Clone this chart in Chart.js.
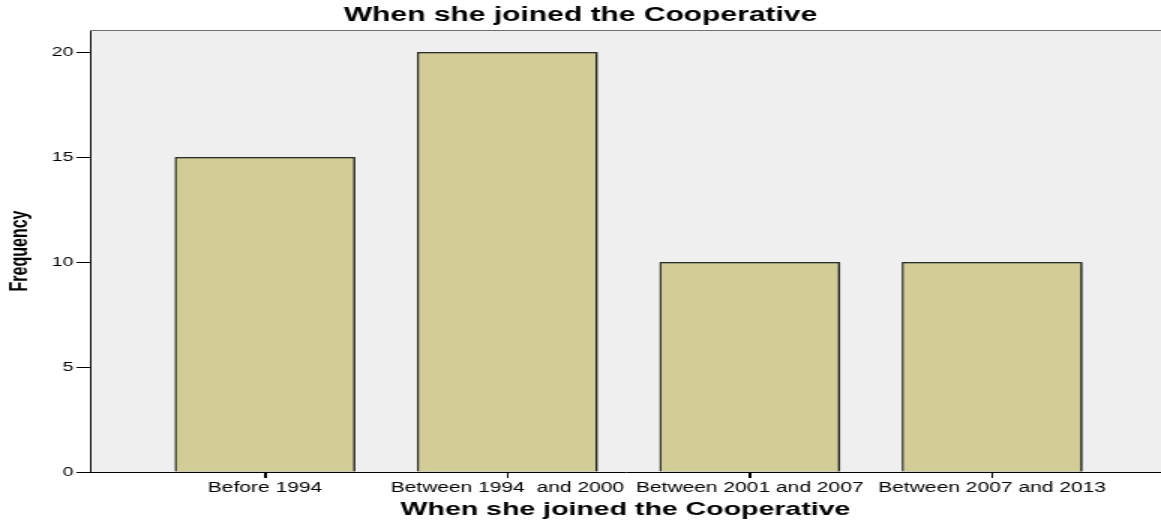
<!DOCTYPE html>
<html>
<head>
<meta charset="utf-8">
<script src="https://cdn.jsdelivr.net/npm/chart.js@4"></script>
<style>
  html, body { margin: 0; padding: 0; background: #fff; }
  /* the chart is rendered narrow and stretched sideways, SPSS-export style */
  #freqChart { display: block; width: 1161px; height: 527px; }
</style>
</head>
<body>
<canvas id="freqChart" width="774" height="527" style="width:1161px;height:527px"></canvas>
<script>
// --- data ---
const CATEGORIES = ['Before 1994', 'Between 1994  and 2000', 'Between 2001 and 2007', 'Between 2007 and 2013'];
const FREQUENCIES = [15, 20, 10, 10];
const Y_TICKS = [0, 5, 10, 15, 20];

const TITLE = 'When she joined the Cooperative';
const FONT = "'Liberation Sans', Arial, sans-serif";

const COLORS = {
    plotBg: '#EFEFEF',
    bar: '#D2CD97',
    barEdge: '#2E2E26',
    axis: '#000000',
    frame: '#6E6E6E'
};

// plot background, grey frame on top, tick marks under each category
const framePlugin = {
    id: 'frame',
    beforeDraw(chart) {
        const { ctx, chartArea: a } = chart;
        ctx.save();
        ctx.fillStyle = COLORS.plotBg;
        ctx.fillRect(a.left, a.top, a.right - a.left, a.bottom - a.top);
        ctx.restore();
    },
    afterDraw(chart) {
        const { ctx, chartArea: a } = chart;
        const xs = chart.scales.x;
        ctx.save();
        ctx.strokeStyle = COLORS.frame;
        ctx.lineWidth = 1;
        ctx.beginPath();
        ctx.moveTo(a.left, a.top + 0.5);
        ctx.lineTo(a.right, a.top + 0.5);
        ctx.stroke();

        ctx.strokeStyle = COLORS.axis;
        ctx.beginPath();
        xs.ticks.forEach((t, i) => {
            const px = Math.round(xs.getPixelForTick(i)) + 0.5;
            ctx.moveTo(px, a.bottom);
            ctx.lineTo(px, a.bottom + 6);
        });
        ctx.stroke();
        ctx.restore();
    }
};

// soft drop shadow under the bars
const shadowPlugin = {
    id: 'barShadow',
    beforeDatasetsDraw(chart) {
        const ctx = chart.ctx;
        ctx.save();
        ctx.shadowColor = 'rgba(0,0,0,0.45)';
        ctx.shadowOffsetX = 1.5;
        ctx.shadowOffsetY = 0;
        ctx.shadowBlur = 2;
    },
    afterDatasetsDraw(chart) {
        chart.ctx.restore();
    }
};

const chart = new Chart(document.getElementById('freqChart'), {
    type: 'bar',
    data: {
        datasets: [{
            data: FREQUENCIES.map((v, i) => ({ x: i, y: v })),
            backgroundColor: COLORS.bar,
            borderColor: COLORS.barEdge,
            borderWidth: 1.5,
            categoryPercentage: 1,
            barPercentage: 0.746
        }]
    },
    options: {
        responsive: false,
        animation: false,
        devicePixelRatio: 1,
        layout: { padding: 0 },
        plugins: {
            legend: { display: false },
            tooltip: { enabled: false },
            title: {
                display: true,
                text: TITLE,
                color: '#000',
                font: { family: FONT, size: 20, weight: 'bold', lineHeight: 1 },
                padding: { top: 5, bottom: 5 }
            }
        },
        scales: {
            x: {
                type: 'linear',
                min: -0.722,
                max: 3.697,
                offset: false,
                afterBuildTicks: (scale) => { scale.ticks = CATEGORIES.map((_, i) => ({ value: i })); },
                afterFit: (scale) => { scale.height = 55; },
                ticks: {
                    autoSkip: false,
                    maxRotation: 0,
                    padding: 2,
                    color: '#000',
                    font: { family: FONT, size: 14 },
                    callback: (v) => CATEGORIES[v]
                },
                grid: { offset: false, drawOnChartArea: false, drawTicks: true, tickLength: 6, tickColor: COLORS.axis },
                border: { color: COLORS.axis, width: 1 },
                title: {
                    display: true,
                    text: TITLE,
                    color: '#000',
                    font: { family: FONT, size: 19, weight: 'bold', lineHeight: 1 },
                    padding: { top: 0, bottom: 7.5 }
                }
            },
            y: {
                min: 0,
                max: 21.05,
                afterBuildTicks: (scale) => { scale.ticks = Y_TICKS.map(v => ({ value: v })); },
                afterFit: (scale) => { scale.width = 60; },
                ticks: {
                    padding: 2,
                    color: '#000',
                    font: { family: FONT, size: 13 }
                },
                grid: { drawOnChartArea: false, tickLength: 9, tickColor: COLORS.axis },
                border: { color: COLORS.axis, width: 1 },
                title: {
                    display: true,
                    text: 'Frequency',
                    color: '#000',
                    font: { family: FONT, size: 16, weight: 'bold', lineHeight: 1 },
                    padding: { top: 6, bottom: 0 }
                }
            }
        }
    },
    plugins: [framePlugin, shadowPlugin]
});
</script>
</body>
</html>
